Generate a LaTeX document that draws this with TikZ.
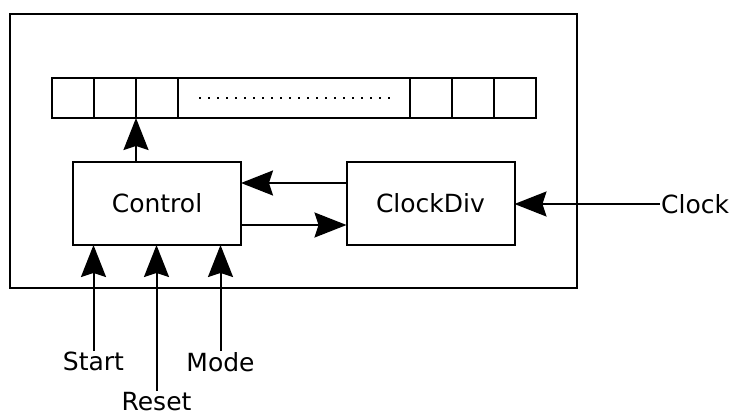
\documentclass[tikz,border=0pt]{standalone}
\usepackage{fontspec}
\setmainfont{DejaVu Sans}
\usetikzlibrary{arrows.meta}

\tikzset{
  block/.style={draw, line width=2pt, minimum width=168pt, minimum height=83pt, inner sep=0pt, outer sep=0pt},
  cell/.style={draw, line width=1.5pt, minimum height=40pt, inner sep=0pt, outer sep=0pt},
  signal/.style={inner sep=1pt},
  wire/.style={line width=2pt, -{Stealth[length=32pt,width=25pt,inset=4pt]}}
}

\begin{document}
\begin{tikzpicture}[x=1pt, y=-1pt, font=\fontsize{25}{30}\selectfont]
\useasboundingbox (0,0) rectangle (732,415);

% outer frame
\draw[line width=2pt] (10,14) rectangle (577,288);

% register cells
\foreach \i/\x in {1/73, 2/115, 3/157, 5/431, 6/473, 7/515}
  \node[cell, minimum width=42pt] (c\i) at (\x,98) {};
\node[cell, minimum width=232pt] (c4) at (294,98) {};
\draw[line width=1.5pt, dash pattern=on 1.5pt off 7.5pt] (199,98) -- (390,98);

\node[block] (ctrl) at (157,203.5) {Control};
\node[block] (div) at (430.5,203.5) {ClockDiv};

\node[signal, anchor=west] (clk) at (660,204) {Clock};
\node[signal, anchor=north] (start) at (93.5,351) {Start};
\node[signal, anchor=north] (reset) at (156.5,391) {Reset};
\node[signal, anchor=north] (mode) at (220.5,351) {Mode};

\draw[wire] (ctrl.north -| c2.south east) -- (c2.south east);
\draw[wire] (div.west |- 0,183) -- (ctrl.east |- 0,183);
\draw[wire] (ctrl.east |- 0,225) -- (div.west |- 0,225);
\draw[wire] (clk.west) -- (div.east |- clk.west);
\draw[wire] (start.north) -- (start.north |- ctrl.south);
\draw[wire] (reset.north) -- (reset.north |- ctrl.south);
\draw[wire] (mode.north) -- (mode.north |- ctrl.south);
\end{tikzpicture}
\end{document}
